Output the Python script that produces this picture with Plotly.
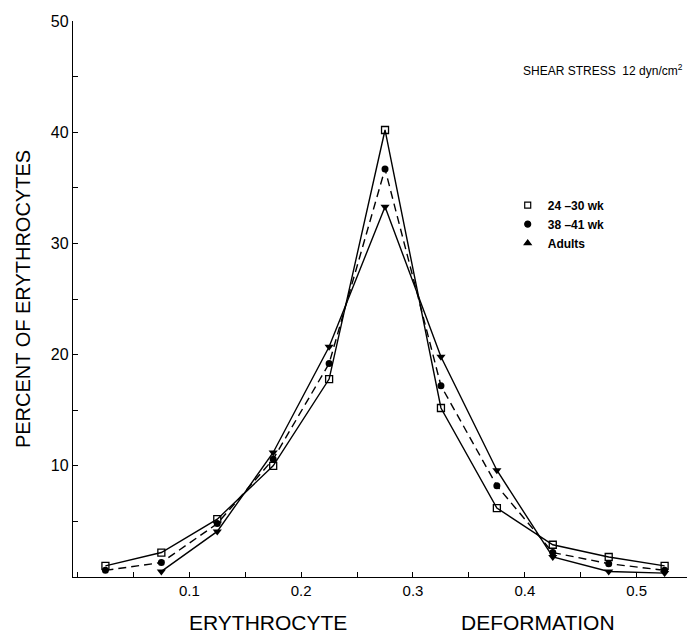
import plotly.graph_objects as go

deformation = [0.025, 0.075, 0.125, 0.175, 0.225, 0.275, 0.325, 0.375, 0.425, 0.475, 0.525]
wk24_30 = [1.0, 2.2, 5.2, 10.0, 17.8, 40.2, 15.2, 6.2, 2.9, 1.8, 1.0]
wk38_41 = [0.6, 1.3, 4.8, 10.6, 19.2, 36.7, 17.2, 8.2, 2.2, 1.2, 0.6]
adults_x = [0.075, 0.125, 0.175, 0.225, 0.275, 0.325, 0.375, 0.425, 0.475, 0.525]
adults = [0.5, 4.1, 11.2, 20.7, 33.3, 19.8, 9.6, 1.8, 0.5, 0.35]

legend_names = ["<b>24 \u201330 wk</b>", "<b>38 \u201341 wk</b>", "<b>Adults</b>"]
y_ticks = [10, 20, 30, 40, 50]
x_ticks = [0.1, 0.2, 0.3, 0.4, 0.5]
x_ticklabels = ["0.1", "0.2", "0.3", "0.4", "0.5"]

FONT = "Liberation Sans, Arial, sans-serif"

fig = go.Figure()
fig.add_trace(go.Scatter(
    x=deformation, y=wk24_30, mode="lines+markers", showlegend=False,
    line=dict(color="black", width=1.4),
    marker=dict(symbol="square-open", size=7, color="black", line=dict(width=1.3))))
fig.add_trace(go.Scatter(
    x=deformation, y=wk38_41, mode="lines+markers", showlegend=False,
    line=dict(color="black", width=1.4, dash="8px,5px"),
    marker=dict(symbol="circle", size=7, color="black")))
fig.add_trace(go.Scatter(
    x=adults_x, y=adults, mode="lines+markers", showlegend=False,
    line=dict(color="black", width=1.4),
    marker=dict(symbol="triangle-down", size=8, color="black")))

# legend entries (markers only, as in the reference legend)
for name, sym in zip(legend_names, ["square-open", "circle", "triangle-up"]):
    fig.add_trace(go.Scatter(
        x=[None], y=[None], mode="markers", name=name,
        marker=dict(symbol=sym, size=6, color="black", line=dict(width=1.2, color="black"))))

fig.add_annotation(
    x=0.997, y=(577 - 70) / 556, xref="paper", yref="paper", xanchor="right", yanchor="middle",
    text="SHEAR STRESS  12 dyn/cm<sup>2</sup>", showarrow=False,
    font=dict(family=FONT, size=12, color="black"))

fig.add_annotation(
    x=(268 - 73) / 614, y=-0.058, xref="paper", yref="paper", xanchor="center", yanchor="top",
    text="ERYTHROCYTE", showarrow=False, font=dict(family=FONT, size=21, color="black"))
fig.add_annotation(
    x=(538 - 73) / 614, y=-0.058, xref="paper", yref="paper", xanchor="center", yanchor="top",
    text="DEFORMATION", showarrow=False, font=dict(family=FONT, size=21, color="black"))

fig.update_layout(
    width=687, height=633,
    margin=dict(l=73, r=0, t=21, b=56),
    paper_bgcolor="white", plot_bgcolor="white",
    font=dict(family=FONT, color="black"),
    legend=dict(x=0.708, y=0.695, xanchor="left", yanchor="top",
                font=dict(family=FONT, size=12, color="black"),
                bgcolor="rgba(0,0,0,0)", tracegroupgap=0, itemwidth=30),
    xaxis=dict(range=[-0.004, 0.545], showline=True, linecolor="black", linewidth=1.3,
               showgrid=False, zeroline=False,
               tickvals=x_ticks, ticktext=x_ticklabels,
               ticks="inside", ticklen=5, tickcolor="black", tickwidth=1.3,
               tickfont=dict(family=FONT, size=15, color="black"),
               minor=dict(dtick=0.05, tick0=0, ticks="inside", ticklen=5, tickcolor="black", tickwidth=1.3),
               ),
    yaxis=dict(range=[0, 50], showline=True, linecolor="black", linewidth=1.3,
               showgrid=False, zeroline=False,
               tickvals=y_ticks,
               ticks="inside", ticklen=5, tickcolor="black", tickwidth=1.3,
               tickfont=dict(family=FONT, size=16, color="black"),
               minor=dict(dtick=5, tick0=0, ticks="inside", ticklen=5, tickcolor="black", tickwidth=1.3),
               title=dict(text="PERCENT OF ERYTHROCYTES", standoff=14,
                          font=dict(family=FONT, size=20, color="black"))),
)

fig.write_html("out.html",
               config={"displayModeBar": False},
               post_script="document.body.style.margin='0';document.body.style.overflow='hidden';")
